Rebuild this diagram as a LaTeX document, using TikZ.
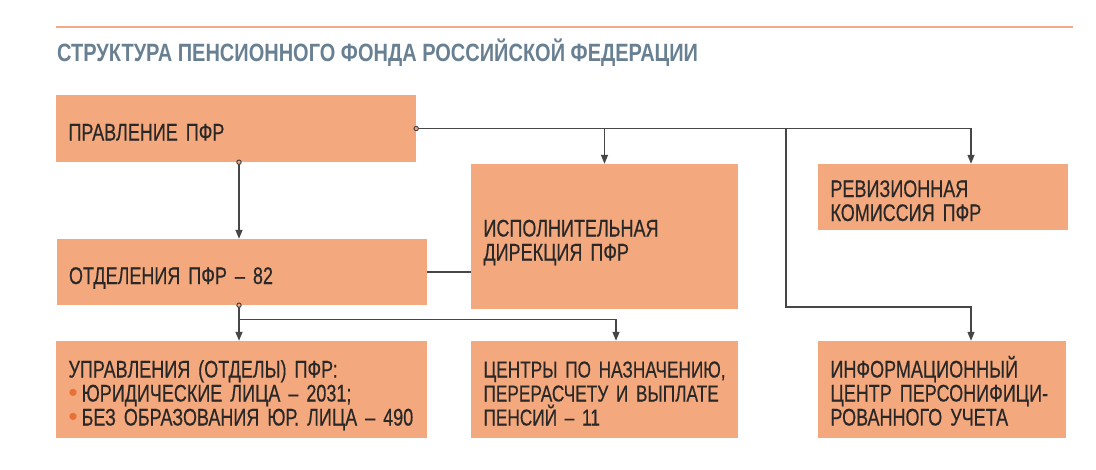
\documentclass[tikz,border=0pt]{standalone}
\usepackage{fontspec}
\setmainfont{Liberation Sans}
\newfontfamily\boxfont[FakeStretch=0.75,FakeBold=0.4,WordSpace=0.6]{Liberation Sans}
\newfontfamily\headfont[FakeStretch=0.8]{Liberation Sans}
\usetikzlibrary{arrows.meta}

\definecolor{boxfill}{RGB}{243,168,125}
\definecolor{rulec}{RGB}{245,170,135}
\definecolor{headc}{RGB}{104,128,146}
\definecolor{ink}{RGB}{40,40,40}
\definecolor{wirec}{RGB}{70,70,70}
\definecolor{bulletc}{RGB}{232,112,52}

\tikzset{
  box/.style={fill=boxfill, inner xsep=12.5pt, inner ysep=0pt, align=left,
    text=ink, font=\boxfont\fontsize{24}{24}\selectfont,
    execute at begin node={\rule{0pt}{30pt}},
    execute at end node={\rule[-6pt]{0pt}{6pt}}},
  link/.style={draw=wirec, line width=1.3pt, -{Triangle[length=9pt,width=7pt]}},
  wire/.style={draw=wirec, line width=1.3pt},
  knob/.style={draw=wirec, line width=1pt, fill=boxfill},
}
\newcommand{\bul}{{\normalfont\color{bulletc}\fontsize{26}{24}\selectfont\smash{•}}\hspace{4pt}}

\begin{document}
\begin{tikzpicture}[x=1pt,y=-1pt]
  \useasboundingbox (0,0) rectangle (1096,469);

  \draw[rulec, line width=2.5pt] (56,27) -- (1073,27);
  \node[anchor=base west, inner sep=0pt, text=headc,
    font=\headfont\bfseries\fontsize{25}{25}\selectfont] (head) at (57,61)
    {СТРУКТУРА ПЕНСИОННОГО ФОНДА РОССИЙСКОЙ ФЕДЕРАЦИИ};

  \node[box, text width=335pt, minimum height=67pt] (prav) at (236,128.5) {ПРАВЛЕНИЕ ПФР};
  \node[box, text width=242pt, minimum height=145pt] (ispol) at (604.5,236.5) {ИСПОЛНИТЕЛЬНАЯ\\ДИРЕКЦИЯ ПФР};
  \node[box, text width=225pt, minimum height=66pt] (reviz) at (943,197) {РЕВИЗИОННАЯ\\КОМИССИЯ ПФР};
  \node[box, text width=345pt, minimum height=66pt] (otdel) at (241.5,272) {ОТДЕЛЕНИЯ ПФР – 82};
  \node[box, text width=346pt, minimum height=97pt] (upr) at (241.5,389.5)
    {УПРАВЛЕНИЯ (ОТДЕЛЫ) ПФР:\\\bul ЮРИДИЧЕСКИЕ ЛИЦА – 2031;\\\bul БЕЗ ОБРАЗОВАНИЯ ЮР. ЛИЦА – 490};
  \node[box, text width=242pt, minimum height=97pt, font=\boxfont\fontsize{23}{24}\selectfont] (centr) at (604.5,389.5)
    {ЦЕНТРЫ~ПО~НАЗНАЧЕНИЮ,\\ПЕРЕРАСЧЕТУ~И~ВЫПЛАТЕ\\ПЕНСИЙ – 11};
  \node[box, text width=223pt, minimum height=97pt] (inform) at (942,389.5)
    {ИНФОРМАЦИОННЫЙ\\ЦЕНТР ПЕРСОНИФИЦИ-\\РОВАННОГО УЧЕТА};

  \coordinate (fork) at (786,307);

  % from the board
  \draw[link] (prav.east) -| ([xshift=28pt]reviz.north);
  \draw[link] (prav.east -| ispol.north) -- (ispol.north);
  \draw[link] (prav.east -| fork) -- (fork) -| ([xshift=29pt]inform.north);
  \draw[link] ([xshift=3pt]prav.south) -- ([xshift=3pt]prav.south |- otdel.north);

  % from the branches
  \draw[wire] (otdel.east) -- (otdel.east -| ispol.west);
  \draw[link] ([xshift=-2.5pt]otdel.south) -- ([xshift=-2.5pt]otdel.south |- upr.north);
  \draw[link] ([xshift=-2.5pt,yshift=-14pt]otdel.south) -| ([xshift=11.5pt]centr.north);

  \draw[knob] (prav.east) circle (2.2pt);
  \draw[knob] ([xshift=3pt]prav.south) circle (2.2pt);
  \draw[knob] ([xshift=-2.5pt]otdel.south) circle (2.2pt);
\end{tikzpicture}
\end{document}
